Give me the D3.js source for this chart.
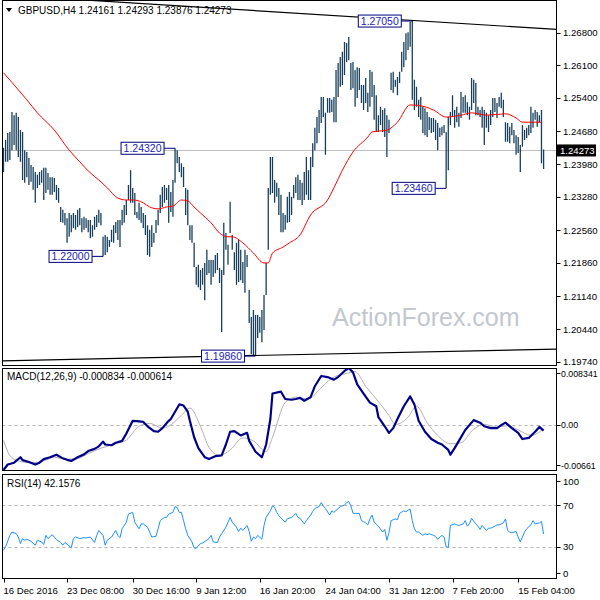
<!DOCTYPE html>
<html>
<head>
<meta charset="utf-8">
<script src="https://cdn.jsdelivr.net/npm/d3@7"></script>
<style>
  body { margin: 0; background: #fff; }
  svg { display: block; }
</style>
</head>
<body>
<div id="chart"></div>
<script>
// GBPUSD H4 bars, high / low per bar
const highs = [
  1.2433, 1.2450, 1.2465, 1.2467, 1.2510, 1.2503, 1.2508, 1.2499, 1.2471, 1.2467,
  1.2428, 1.2424, 1.2411, 1.2396, 1.2392, 1.2381, 1.2375, 1.2381, 1.2385, 1.2390,
  1.2390, 1.2379, 1.2370, 1.2370, 1.2368, 1.2353, 1.2347, 1.2306, 1.2300, 1.2293,
  1.2282, 1.2293, 1.2289, 1.2293, 1.2289, 1.2300, 1.2304, 1.2282, 1.2285, 1.2282,
  1.2278, 1.2278, 1.2267, 1.2285, 1.2289, 1.2300, 1.2293, 1.2242, 1.2246, 1.2242,
  1.2235, 1.2257, 1.2267, 1.2274, 1.2278, 1.2278, 1.2300, 1.2310, 1.2321, 1.2353,
  1.2385, 1.2347, 1.2336, 1.2295, 1.2315, 1.2306, 1.2293, 1.2289, 1.2267, 1.2257,
  1.2267, 1.2250, 1.2278, 1.2300, 1.2332, 1.2349, 1.2353, 1.2347, 1.2353, 1.2338,
  1.2364, 1.2432, 1.2428, 1.2413, 1.2400, 1.2392, 1.2347, 1.2343, 1.2267, 1.2267,
  1.2229, 1.2177, 1.2182, 1.2171, 1.2175, 1.2186, 1.2214, 1.2192, 1.2192, 1.2192,
  1.2203, 1.2207, 1.2175, 1.2171, 1.2272, 1.2250, 1.2225, 1.2317, 1.2246, 1.2209,
  1.2229, 1.2235, 1.2214, 1.2188, 1.2214, 1.2203, 1.2128, 1.2070, 1.2085, 1.2074,
  1.2074, 1.2070, 1.2085, 1.2117, 1.2186, 1.2347, 1.2413, 1.2413, 1.2364, 1.2358,
  1.2347, 1.2332, 1.2293, 1.2289, 1.2328, 1.2338, 1.2328, 1.2353, 1.2370, 1.2375,
  1.2364, 1.2358, 1.2381, 1.2413, 1.2385, 1.2413, 1.2443, 1.2476, 1.2499, 1.2514,
  1.2542, 1.2542, 1.2508, 1.2540, 1.2540, 1.2536, 1.2542, 1.2600, 1.2615, 1.2628,
  1.2639, 1.2660, 1.2658, 1.2671, 1.2615, 1.2617, 1.2600, 1.2606, 1.2604, 1.2568,
  1.2568, 1.2583, 1.2551, 1.2600, 1.2596, 1.2568, 1.2546, 1.2503, 1.2521, 1.2514,
  1.2518, 1.2503, 1.2493, 1.2594, 1.2596, 1.2579, 1.2585, 1.2596, 1.2639, 1.2660,
  1.2679, 1.2681, 1.2703, 1.2705, 1.2579, 1.2564, 1.2536, 1.2542, 1.2521, 1.2518,
  1.2510, 1.2499, 1.2497, 1.2497, 1.2493, 1.2486, 1.2476, 1.2478, 1.2482, 1.2467,
  1.2499, 1.2510, 1.2546, 1.2514, 1.2521, 1.2508, 1.2553, 1.2542, 1.2546, 1.2531,
  1.2521, 1.2583, 1.2579, 1.2572, 1.2521, 1.2514, 1.2521, 1.2514, 1.2508, 1.2503,
  1.2514, 1.2540, 1.2540, 1.2529, 1.2542, 1.2551, 1.2536, 1.2488, 1.2486, 1.2478,
  1.2486, 1.2471, 1.2460, 1.2456, 1.2439, 1.2482, 1.2471, 1.2476, 1.2482, 1.2521,
  1.2508, 1.2514, 1.2510, 1.2503, 1.2514, 1.24293
]
const lows = [
  1.2381, 1.2403, 1.2403, 1.2407, 1.2428, 1.2439, 1.2428, 1.2413, 1.2403, 1.2364,
  1.2358, 1.2370, 1.2353, 1.2360, 1.2343, 1.2315, 1.2347, 1.2353, 1.2358, 1.2321,
  1.2336, 1.2343, 1.2332, 1.2332, 1.2338, 1.2321, 1.2315, 1.2274, 1.2272, 1.2267,
  1.2229, 1.2242, 1.2252, 1.2261, 1.2257, 1.2263, 1.2267, 1.2252, 1.2257, 1.2261,
  1.2252, 1.2239, 1.2242, 1.2257, 1.2263, 1.2272, 1.2267, 1.2200, 1.2203, 1.2209,
  1.2220, 1.2231, 1.2229, 1.2250, 1.2235, 1.2220, 1.2267, 1.2272, 1.2289, 1.2321,
  1.2315, 1.2315, 1.2289, 1.2282, 1.2278, 1.2272, 1.2261, 1.2246, 1.2203, 1.2199,
  1.2220, 1.2229, 1.2250, 1.2267, 1.2293, 1.2306, 1.2315, 1.2321, 1.2272, 1.2295,
  1.2285, 1.2358, 1.2400, 1.2381, 1.2370, 1.2349, 1.2289, 1.2267, 1.2235, 1.2229,
  1.2177, 1.2139, 1.2134, 1.2128, 1.2139, 1.2106, 1.2160, 1.2164, 1.2139, 1.2156,
  1.2164, 1.2171, 1.2143, 1.2038, 1.2160, 1.2214, 1.2182, 1.2250, 1.2214, 1.2171,
  1.2139, 1.2145, 1.2149, 1.2143, 1.2122, 1.2177, 1.2057, 1.1990, 1.1988, 1.1986,
  1.2025, 1.2036, 1.2016, 1.2042, 1.2117, 1.2214, 1.2332, 1.2336, 1.2315, 1.2328,
  1.2289, 1.2252, 1.2252, 1.2257, 1.2272, 1.2274, 1.2289, 1.2325, 1.2336, 1.2321,
  1.2321, 1.2310, 1.2321, 1.2332, 1.2321, 1.2321, 1.2392, 1.2428, 1.2443, 1.2465,
  1.2486, 1.2499, 1.2418, 1.2508, 1.2508, 1.2510, 1.2488, 1.2488, 1.2542, 1.2564,
  1.2568, 1.2589, 1.2617, 1.2621, 1.2557, 1.2561, 1.2521, 1.2540, 1.2557, 1.2529,
  1.2514, 1.2529, 1.2510, 1.2521, 1.2542, 1.2493, 1.2467, 1.2467, 1.2482, 1.2467,
  1.2456, 1.2413, 1.2465, 1.2557, 1.2551, 1.2564, 1.2546, 1.2572, 1.2596, 1.2606,
  1.2621, 1.2643, 1.2650, 1.2536, 1.2514, 1.2521, 1.2499, 1.2493, 1.2465, 1.2460,
  1.2456, 1.2471, 1.2465, 1.2467, 1.2450, 1.2428, 1.2456, 1.2460, 1.2465, 1.2346,
  1.2385, 1.2482, 1.2499, 1.2476, 1.2488, 1.2478, 1.2497, 1.2508, 1.2508, 1.2503,
  1.2493, 1.2514, 1.2529, 1.2503, 1.2503, 1.2499, 1.2476, 1.2439, 1.2476, 1.2467,
  1.2482, 1.2499, 1.2510, 1.2497, 1.2521, 1.2518, 1.2499, 1.2446, 1.2446, 1.2443,
  1.2460, 1.2443, 1.2418, 1.2422, 1.2381, 1.2435, 1.2450, 1.2454, 1.2460, 1.2465,
  1.2476, 1.2493, 1.2478, 1.2488, 1.2400, 1.23876
]
const lastBar = [1.24161, 1.24293, 1.23876, 1.24273] // open high low close

// moving average (red), [bar, price]
const maPoints = [
  [0, 1.2594], [11, 1.2536], [16, 1.2508], [24, 1.2471], [31, 1.2428], [36, 1.2403],
  [41, 1.2379], [45, 1.2364], [49, 1.2347], [54, 1.2325], [58, 1.2321], [61, 1.2321],
  [66, 1.2315], [69, 1.2306], [73, 1.2302], [77, 1.2306], [80, 1.2308], [84, 1.2321],
  [87, 1.2319], [90, 1.2306], [93, 1.2293], [98, 1.2272], [102, 1.2250], [106, 1.2242],
  [108, 1.2242], [113, 1.2229], [118, 1.2207], [123, 1.2186], [125, 1.2186], [127, 1.2207],
  [132, 1.2220], [135, 1.2229], [140, 1.2246], [145, 1.2289], [153, 1.2321], [156, 1.2347],
  [160, 1.2385], [165, 1.2424], [172, 1.2456], [174, 1.2467], [181, 1.2471], [186, 1.2488],
  [192, 1.2525], [199, 1.2521], [203, 1.2514], [209, 1.2499], [216, 1.2503], [221, 1.2508],
  [228, 1.2503], [237, 1.2506], [242, 1.2497], [245, 1.2488], [254, 1.2488]
]

// MACD(12,26,9): main and signal, [bar, value]
const macdMain = [
  [0, -0.00661], [2, -0.00581], [5, -0.00554], [8, -0.00474], [9, -0.00517], [12, -0.00544],
  [15, -0.00581], [17, -0.00554], [19, -0.00501], [22, -0.00474], [25, -0.00437], [28, -0.0049],
  [30, -0.00512], [32, -0.00528], [35, -0.00474], [38, -0.00432], [40, -0.00383], [43, -0.00351],
  [45, -0.00314], [47, -0.00245], [48, -0.00287], [51, -0.00298], [53, -0.00261], [56, -0.00234],
  [58, -0.00127], [61, 0.0006], [63, 0.00055], [66, 0.00044], [68, -0.0002], [71, -0.0009],
  [73, -0.001], [75, -0.00047], [78, 0.0006], [79, 0.00087], [81, 0.00193], [83, 0.003],
  [85, 0.00284], [87, 0.00193], [88, 0.0006], [90, -0.00181], [92, -0.00341], [95, -0.00474],
  [97, -0.00501], [100, -0.00458], [103, -0.00447], [105, -0.00287], [107, -0.001], [109, -0.0009],
  [112, -0.00154], [115, -0.00116], [116, -0.00234], [119, -0.00394], [122, -0.00474], [124, -0.00287],
  [126, 0.00087], [127, 0.0046], [131, 0.00487], [133, 0.0038], [136, 0.00369], [138, 0.0038],
  [140, 0.00396], [142, 0.00354], [145, 0.00407], [147, 0.00567], [150, 0.00717], [153, 0.00701],
  [156, 0.00663], [158, 0.00701], [161, 0.00791], [163, 0.00834], [165, 0.0077], [167, 0.00594],
  [170, 0.0046], [173, 0.00327], [176, 0.00273], [177, 0.00113], [180, -0.0002], [182, -0.00117],
  [184, -0.00047], [186, 0.00087], [189, 0.00273], [192, 0.00418], [194, 0.003], [196, 0.0006],
  [199, -0.001], [202, -0.00207], [205, -0.00261], [207, -0.00287], [210, -0.00367], [211, -0.00437],
  [213, -0.00341], [215, -0.00234], [218, -0.00074], [222, 0.0007], [225, 0.00033], [227, -0.0002],
  [230, -0.00047], [233, -0.00047], [235, -0.00004], [237, 0.00033], [240, -0.00047], [243, -0.00117],
  [245, -0.00207], [248, -0.00191], [251, -0.001], [253, -0.0003], [255, -0.000834]
]
const macdSignal = [
  [0, -0.00223], [3, -0.00448], [7, -0.00528], [13, -0.00555], [19, -0.00528], [24, -0.00474],
  [29, -0.00501], [34, -0.00501], [40, -0.00421], [46, -0.00341], [53, -0.00277], [58, -0.00223],
  [64, -0.0002], [69, 0.00022], [75, -0.00047], [78, -0.0002], [84, 0.0014], [88, 0.00247],
  [93, -0.0002], [97, -0.0033], [102, -0.00448], [107, -0.00367], [113, -0.00191], [118, -0.00234],
  [124, -0.00394], [127, -0.00181], [133, 0.0033], [138, 0.00407], [144, 0.0038], [149, 0.00514],
  [155, 0.00685], [162, 0.00754], [166, 0.00781], [171, 0.00567], [176, 0.0038], [182, 0.0014],
  [185, 0.00006], [191, 0.00113], [195, 0.00273], [200, 0.00033], [205, -0.00154], [211, -0.00277],
  [216, -0.00261], [222, -0.00063], [227, 0.00006], [233, -0.00031], [238, -0.0001], [243, -0.00074],
  [249, -0.00154], [255, -0.000614]
]

// RSI(14), [bar, value]
const rsiPoints = [
  [0, 26.8], [1, 30.0], [3, 41.0], [4, 44.2], [6, 42.6], [7, 39.4], [8, 33.1], [9, 37.9], [10, 36.3],
  [11, 37.2], [13, 35.3], [15, 31.6], [16, 36.3], [18, 34.7], [19, 32.2], [20, 41.0], [21, 37.9],
  [23, 41.6], [24, 39.4], [25, 36.9], [27, 34.1], [28, 31.6], [29, 34.1], [31, 30.9], [32, 29.0],
  [33, 37.9], [34, 39.4], [36, 37.9], [38, 38.8], [39, 38.5], [41, 39.4], [43, 34.1], [44, 41.0],
  [45, 45.7], [47, 41.0], [48, 31.6], [49, 36.3], [51, 39.4], [53, 45.7], [54, 41.0], [55, 38.8],
  [56, 47.3], [58, 53.6], [59, 61.5], [61, 63.1], [62, 53.6], [64, 47.3], [65, 52.0], [66, 52.0],
  [68, 48.9], [69, 44.2], [70, 39.4], [72, 40.1], [73, 47.3], [74, 55.2], [76, 58.3], [77, 58.3],
  [78, 61.5], [80, 63.1], [81, 68.7], [82, 67.8], [83, 63.1], [84, 63.1], [85, 55.2], [86, 47.3],
  [87, 41.0], [89, 34.7], [90, 29.0], [91, 28.4], [92, 30.9], [93, 33.1], [94, 33.8], [96, 36.3],
  [97, 37.9], [98, 41.0], [99, 34.7], [101, 34.1], [102, 39.4], [103, 42.6], [105, 48.9], [106, 53.6],
  [107, 58.3], [108, 53.6], [110, 48.9], [111, 44.8], [112, 47.9], [113, 45.7], [115, 50.5], [116, 44.8],
  [117, 35.3], [118, 39.4], [119, 37.9], [120, 41.0], [122, 37.2], [123, 50.5], [124, 58.3], [126, 64.6],
  [127, 69.4], [128, 67.8], [129, 63.1], [130, 59.9], [132, 55.8], [133, 53.6], [134, 56.8], [136, 58.3],
  [137, 59.9], [138, 62.1], [139, 58.3], [140, 57.4], [142, 52.0], [143, 55.2], [145, 60.5], [146, 64.0],
  [147, 66.8], [149, 68.7], [150, 72.5], [151, 69.4], [152, 66.8], [154, 60.5], [155, 64.6], [156, 63.1],
  [158, 66.8], [159, 68.7], [161, 70.0], [162, 72.5], [163, 73.5], [164, 69.4], [165, 62.4], [166, 62.1],
  [168, 62.1], [169, 55.2], [171, 53.0], [172, 51.1], [173, 56.8], [174, 60.5], [175, 53.6], [176, 52.0],
  [177, 49.8], [179, 44.2], [180, 46.7], [181, 36.3], [182, 43.5], [183, 55.2], [185, 56.8], [186, 56.1],
  [187, 62.1], [189, 64.6], [190, 63.7], [191, 65.3], [192, 66.2], [193, 55.2], [194, 47.3], [195, 44.2],
  [196, 44.2], [198, 41.0], [199, 42.6], [200, 41.6], [201, 42.6], [203, 41.0], [204, 40.1], [205, 37.2],
  [207, 41.0], [208, 39.4], [209, 30.0], [210, 29.4], [211, 50.5], [213, 52.0], [214, 51.1], [215, 50.5],
  [217, 52.0], [218, 55.2], [219, 49.8], [220, 52.0], [221, 57.4], [223, 52.0], [224, 49.8], [225, 46.7],
  [226, 50.5], [228, 45.7], [229, 47.9], [230, 47.9], [232, 49.8], [233, 51.1], [234, 51.1], [236, 53.0],
  [237, 56.8], [238, 45.7], [239, 44.2], [240, 43.5], [242, 44.8], [243, 39.4], [244, 34.7], [246, 44.2],
  [247, 47.3], [249, 51.1], [250, 55.2], [251, 52.0], [253, 53.0], [254, 54.3], [255, 42.1576]
]

const priceTicks = [1.268, 1.261, 1.254, 1.2468, 1.2398, 1.2328, 1.2256, 1.2186, 1.2114, 1.2044, 1.1974]
const dateLabels = ['16 Dec 2016', '23 Dec 08:00', '30 Dec 16:00', '9 Jan 12:00', '16 Jan 20:00',
  '24 Jan 04:00', '31 Jan 12:00', '7 Feb 20:00', '15 Feb 04:00']
const dateBars = [0, 30, 61, 91, 121, 152, 182, 212, 243]

// swing high / low tags, [bar, price]
const pivots = [[193, 1.2705], [81, 1.2432], [47, 1.2200], [209, 1.2346], [119, 1.1986]]

// channel lines, two points each [bar, price]
const upperLine = [[99, 1.2733], [258, 1.2688]]
const lowerLine = [[0, 1.1976], [261, 1.2001]]

const macdRange = [-0.00661, 0.008341]
const rsiLevels = [30, 70]

// ---------------------------------------------------------------
const width = 600
const height = 600
const left = 2.5
const right = 556.5
const font = "'Liberation Sans', Arial, sans-serif"

const main = { top: 0.5, bottom: 365.5 }
const macdPane = { top: 368.5, bottom: 470.5 }
const rsiPane = { top: 474.5, bottom: 578.5 }

const svg = d3
  .select('#chart')
  .append('svg')
  .attr('width', width)
  .attr('height', height)
  .style('font-family', font)

svg.append('rect').attr('width', width).attr('height', height).attr('fill', '#fff')

const xPositionScale = d3.scaleLinear().domain([0, 255]).range([3.5, 543.6])

const yPrice = d3.scaleLinear().domain([1.1974, 1.268]).range([361.7, 32.7])
const yMacd = d3.scaleLinear().domain(macdRange).range([470, 368])
const yRsi = d3.scaleLinear().domain([0, 100]).range([578, 474])

// clip paths per pane
function addClip(id, pane) {
  svg.append('clipPath').attr('id', id)
    .append('rect')
    .attr('x', left).attr('y', pane.top)
    .attr('width', right - left).attr('height', pane.bottom - pane.top)
}
addClip('clip-main', main)
addClip('clip-macd', macdPane)
addClip('clip-rsi', rsiPane)

// ---------- main pane ----------
const gMain = svg.append('g').attr('clip-path', 'url(#clip-main)')

// watermark
gMain.append('text')
  .attr('x', 332).attr('y', 326)
  .attr('font-size', 25)
  .attr('fill', '#c2c8ce')
  .text('ActionForex.com')

// current price line
gMain.append('line')
  .attr('x1', left).attr('x2', right)
  .attr('y1', Math.round(yPrice(lastBar[3])) + 0.5)
  .attr('y2', Math.round(yPrice(lastBar[3])) + 0.5)
  .attr('stroke', '#c0c0c0')

// bars
gMain.selectAll('.bar')
  .data(highs)
  .enter()
  .append('line')
  .attr('class', 'bar')
  .attr('x1', (d, i) => xPositionScale(i))
  .attr('x2', (d, i) => xPositionScale(i))
  .attr('y1', d => yPrice(d))
  .attr('y2', (d, i) => yPrice(lows[i]))
  .attr('stroke', '#173f5c')
  .attr('stroke-width', 1.3)

// moving average
gMain.append('path')
  .datum(maPoints)
  .attr('fill', 'none')
  .attr('stroke', '#ff0000')
  .attr('stroke-width', 1)
  .attr('d', d3.line()
    .x(d => xPositionScale(d[0]))
    .y(d => yPrice(d[1]))
    .curve(d3.curveMonotoneX))

// channel lines, stretched across the pane
function channel(pts) {
  const slope = (pts[1][1] - pts[0][1]) / (pts[1][0] - pts[0][0])
  const b0 = xPositionScale.invert(left)
  const b1 = xPositionScale.invert(right)
  gMain.append('line')
    .attr('x1', left).attr('x2', right)
    .attr('y1', yPrice(pts[0][1] + slope * (b0 - pts[0][0])))
    .attr('y2', yPrice(pts[0][1] + slope * (b1 - pts[0][0])))
    .attr('stroke', '#000')
    .attr('stroke-width', 1.2)
}
channel(upperLine)
channel(lowerLine)

// pivot tags
const tags = gMain.selectAll('.tag')
  .data(pivots)
  .enter()
  .append('g')
  .attr('class', 'tag')

tags.append('line')
  .attr('x1', d => xPositionScale(d[0]) - 11)
  .attr('x2', d => xPositionScale(d[0]))
  .attr('y1', d => yPrice(d[1]))
  .attr('y2', d => yPrice(d[1]))
  .attr('stroke', '#000080')

tags.append('rect')
  .attr('x', d => xPositionScale(d[0]) - 11 - 43)
  .attr('y', d => yPrice(d[1]) - 6)
  .attr('width', 43)
  .attr('height', 12)
  .attr('fill', '#fff')
  .attr('stroke', '#000080')

tags.append('text')
  .attr('x', d => xPositionScale(d[0]) - 11 - 21.5)
  .attr('y', d => yPrice(d[1]) + 4)
  .attr('text-anchor', 'middle')
  .attr('font-size', 10.5)
  .attr('fill', '#2222b8')
  .text(d => d[1].toFixed(5))

// title
svg.append('path')
  .attr('d', 'M6,8 L12,8 L9,12 Z')
  .attr('fill', '#000')
svg.append('text')
  .attr('x', 18).attr('y', 14)
  .attr('font-size', 10)
  .attr('fill', '#000')
  .text('GBPUSD,H4  ' + lastBar.map(d => d.toFixed(5)).join(' '))

// price axis
svg.selectAll('.ptick')
  .data(priceTicks)
  .enter()
  .append('line')
  .attr('x1', right).attr('x2', right + 4)
  .attr('y1', d => Math.round(yPrice(d)) + 0.5)
  .attr('y2', d => Math.round(yPrice(d)) + 0.5)
  .attr('stroke', '#000')

svg.selectAll('.plabel')
  .data(priceTicks)
  .enter()
  .append('text')
  .attr('x', 563)
  .attr('y', d => yPrice(d) + 3.5)
  .attr('font-size', 9.6)
  .text(d => d.toFixed(5))

const closeY = yPrice(lastBar[3])
svg.append('rect')
  .attr('x', 557).attr('y', closeY - 6)
  .attr('width', 39).attr('height', 12)
  .attr('fill', '#000')
svg.append('text')
  .attr('x', 560).attr('y', closeY + 3.5)
  .attr('font-size', 9.6)
  .attr('fill', '#fff')
  .text(lastBar[3].toFixed(5))

// ---------- MACD pane ----------
const gMacd = svg.append('g').attr('clip-path', 'url(#clip-macd)')

gMacd.append('line')
  .attr('x1', left).attr('x2', right)
  .attr('y1', Math.round(yMacd(0)) + 0.5).attr('y2', Math.round(yMacd(0)) + 0.5)
  .attr('stroke', '#b4b4b4')
  .attr('stroke-dasharray', '3,3')

gMacd.append('path')
  .datum(macdSignal)
  .attr('fill', 'none')
  .attr('stroke', '#b0b0b0')
  .attr('stroke-width', 1)
  .attr('d', d3.line()
    .x(d => xPositionScale(d[0]))
    .y(d => yMacd(d[1]))
    .curve(d3.curveMonotoneX))

gMacd.append('path')
  .datum(macdMain)
  .attr('fill', 'none')
  .attr('stroke', '#00008b')
  .attr('stroke-width', 2.2)
  .attr('stroke-linejoin', 'round')
  .attr('d', d3.line()
    .x(d => xPositionScale(d[0]))
    .y(d => yMacd(d[1])))

svg.append('text')
  .attr('x', 7).attr('y', 380)
  .attr('font-size', 10)
  .text('MACD(12,26,9) ' + macdMain[macdMain.length - 1][1].toFixed(6) + ' ' +
    macdSignal[macdSignal.length - 1][1].toFixed(6))

const macdLabels = [
  { v: macdRange[1], text: '0.008341', dy: 5 },
  { v: 0, text: '0.00', dy: 0 },
  { v: macdRange[0], text: '-0.00661', dy: -5 }
]
svg.selectAll('.mlabel')
  .data(macdLabels)
  .enter()
  .append('text')
  .attr('x', 561)
  .attr('y', d => yMacd(d.v) + d.dy + 3.5)
  .attr('font-size', 8.8)
  .text(d => d.text)
svg.selectAll('.mtick')
  .data(macdLabels)
  .enter()
  .append('line')
  .attr('x1', right).attr('x2', right + 4)
  .attr('y1', d => Math.round(yMacd(d.v) + d.dy) + 0.5)
  .attr('y2', d => Math.round(yMacd(d.v) + d.dy) + 0.5)
  .attr('stroke', '#000')

// ---------- RSI pane ----------
const gRsi = svg.append('g').attr('clip-path', 'url(#clip-rsi)')

gRsi.selectAll('.level')
  .data(rsiLevels)
  .enter()
  .append('line')
  .attr('x1', left).attr('x2', right)
  .attr('y1', d => Math.round(yRsi(d)) + 0.5)
  .attr('y2', d => Math.round(yRsi(d)) + 0.5)
  .attr('stroke', '#b4b4b4')
  .attr('stroke-dasharray', '3,3')

gRsi.append('path')
  .datum(rsiPoints)
  .attr('fill', 'none')
  .attr('stroke', '#1e90ff')
  .attr('stroke-width', 1)
  .attr('d', d3.line()
    .x(d => xPositionScale(d[0]))
    .y(d => yRsi(d[1])))

svg.append('text')
  .attr('x', 7).attr('y', 487)
  .attr('font-size', 10)
  .text('RSI(14) ' + rsiPoints[rsiPoints.length - 1][1].toFixed(4))

const rsiLabels = [
  { v: 100, dy: 7 },
  { v: 70, dy: 0 },
  { v: 30, dy: 0 },
  { v: 0, dy: -5 }
]
svg.selectAll('.rlabel')
  .data(rsiLabels)
  .enter()
  .append('text')
  .attr('x', 563)
  .attr('y', d => yRsi(d.v) + d.dy + 3.5)
  .attr('font-size', 9.6)
  .text(d => d.v)
svg.selectAll('.rtick')
  .data(rsiLabels)
  .enter()
  .append('line')
  .attr('x1', right).attr('x2', right + 4)
  .attr('y1', d => Math.round(yRsi(d.v) + d.dy) + 0.5)
  .attr('y2', d => Math.round(yRsi(d.v) + d.dy) + 0.5)
  .attr('stroke', '#000')

// ---------- pane borders ----------
;[main, macdPane, rsiPane].forEach(p => {
  svg.append('rect')
    .attr('x', left).attr('y', p.top)
    .attr('width', right - left).attr('height', p.bottom - p.top)
    .attr('fill', 'none')
    .attr('stroke', '#000')
})

// ---------- time axis ----------
svg.selectAll('.dtick')
  .data(dateBars)
  .enter()
  .append('line')
  .attr('x1', d => Math.round(xPositionScale(d)) + 0.5)
  .attr('x2', d => Math.round(xPositionScale(d)) + 0.5)
  .attr('y1', rsiPane.bottom)
  .attr('y2', rsiPane.bottom + 4)
  .attr('stroke', '#000')

svg.selectAll('.dlabel')
  .data(dateBars)
  .enter()
  .append('text')
  .attr('x', d => xPositionScale(d))
  .attr('y', 594)
  .attr('font-size', 9.6)
  .text((d, i) => dateLabels[i])
</script>
</body>
</html>
